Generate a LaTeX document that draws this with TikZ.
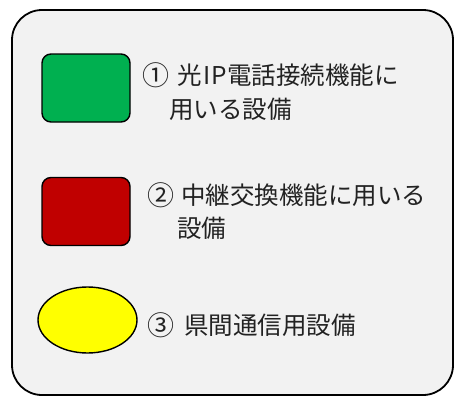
\documentclass[tikz,border=0pt]{standalone}
\usepackage{fontspec}
\setmainfont{Noto Sans CJK JP}
\usepackage{xcolor}
\usetikzlibrary{shapes.geometric}
\definecolor{panelgray}{HTML}{F2F2F2}
\definecolor{equipgreen}{HTML}{00B050}
\definecolor{equipred}{HTML}{C00000}
\definecolor{equipyellow}{HTML}{FFFF00}
\definecolor{labelgray}{HTML}{222222}

\begin{document}
\begin{tikzpicture}[x=1pt,y=-1pt,
	legbox/.style={draw=black,line width=1.4pt,rounded corners=9pt,minimum width=88pt,minimum height=68pt,inner sep=0pt},
	legoval/.style={draw=black,line width=1.4pt,ellipse,minimum width=99pt,minimum height=66pt,inner sep=0pt},
	legtext/.style={anchor=west,inner sep=0pt,text=labelgray,font=\fontsize{24.5}{28}\selectfont},
	legnum/.style={anchor=west,inner sep=0pt,text=labelgray,font=\fontsize{27}{30}\selectfont}]
		\useasboundingbox (0,0) rectangle (455,397);
		\draw[line width=1.8pt,fill=panelgray,rounded corners=30pt] (12,10) rectangle (453,395);
		% legend symbols
		\node[legbox,fill=equipgreen] (green) at (86,88) {};
		\node[legbox,fill=equipred] (red) at (86,211.5) {};
		\node[legoval,fill=equipyellow] (yellow) at (87.5,320) {};
		% legend texts
		\node[legnum] (num1) at (142,75) {①};
		\node[legtext] (txt1a) at (177,75) {光\kern2ptI\kern1ptP電話接続機能に};
		\node[legtext] (txt1b) at (169,109) {用いる設備};
		\node[legnum] (num2) at (147,195) {②};
		\node[legtext] (txt2a) at (181,195) {中継交換機能に用いる};
		\node[legtext] (txt2b) at (177,228) {設備};
		\node[legnum] (num3) at (147,325) {③};
		\node[legtext] (txt3) at (184,325) {県間通信用設備};
	\end{tikzpicture}
\end{document}
